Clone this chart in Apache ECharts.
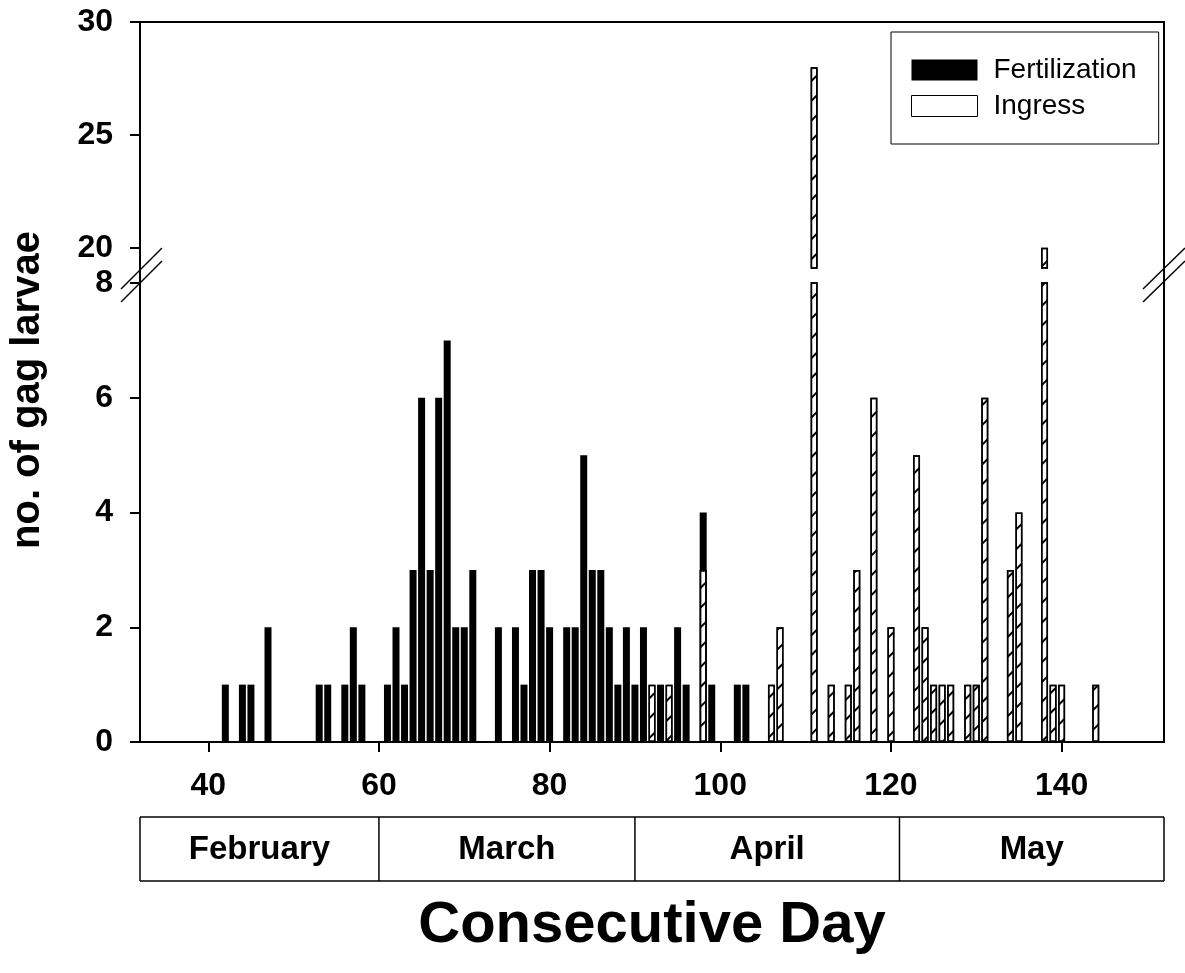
<!DOCTYPE html>
<html>
<head>
<meta charset="utf-8">
<script src="https://cdn.jsdelivr.net/npm/echarts@6/dist/echarts.min.js"></script>
<style>
  html, body { margin: 0; padding: 0; background: #fff; }
  #chart { width: 1185px; height: 973px; }
</style>
</head>
<body>
<div id="chart"></div>
<script>
// consecutive day -> number of gag larvae
var fertDays = [42, 44, 45, 47, 53, 54, 56, 57, 58, 61, 62, 63, 64, 65, 66, 67, 68, 69, 70, 71,
  74, 76, 77, 78, 79, 80, 82, 83, 84, 85, 86, 87, 88, 89, 90, 91, 93, 95, 96, 98, 99, 102, 103];
var fertCounts = [1, 1, 1, 2, 1, 1, 1, 2, 1, 1, 2, 1, 3, 6, 3, 6, 7, 2, 2, 3,
  2, 2, 1, 3, 3, 2, 2, 2, 5, 3, 3, 2, 1, 2, 1, 2, 1, 2, 1, 4, 1, 1, 1];
var ingressDays = [92, 94, 98, 106, 107, 111, 113, 115, 116, 118, 120, 123, 124, 125, 126, 127,
  129, 130, 131, 134, 135, 138, 139, 140, 144];
var ingressCounts = [1, 1, 3, 1, 2, 28, 1, 1, 3, 6, 2, 5, 2, 1, 1, 1,
  1, 1, 6, 3, 4, 20, 1, 1, 1];

var xTicks = [40, 60, 80, 100, 120, 140];
var upperTicks = [20, 25, 30];
var months = ['February', 'March', 'April', 'May'];
var monthEdges = [32, 60, 90, 121, 152];

var FONT = '"Liberation Sans", Arial, sans-serif';

function pairs(days, counts) {
  return days.map(function (d, i) { return [d, counts[i]]; });
}
var fertData = pairs(fertDays, fertCounts);
var ingressData = pairs(ingressDays, ingressCounts);

var hatch = {
  symbol: 'rect',
  symbolSize: 1,
  dashArrayX: [1, 0],
  dashArrayY: [1.3, 12],
  rotation: -Math.PI / 4,
  color: '#000'
};

var tickLabel = { fontSize: 32, fontWeight: 'bold', color: '#000', fontFamily: FONT };

function barSeries(name, data, xi, yi) {
  var fert = name === 'Fertilization';
  return {
    name: name,
    type: 'bar',
    xAxisIndex: xi,
    yAxisIndex: yi,
    barWidth: 7,
    barGap: '-100%',
    data: data,
    itemStyle: fert
      ? { color: '#000' }
      : { color: '#fff', borderColor: '#000', borderWidth: 1.5, decal: hatch }
  };
}

var chart = echarts.init(document.getElementById('chart'));
chart.setOption({
  animation: false,
  backgroundColor: '#fff',
  grid: [
    { left: 140, width: 1024, top: 22, height: 246 },
    { left: 140, width: 1024, top: 283, height: 459 }
  ],
  legend: {
    left: 891,
    top: 32,
    orient: 'vertical',
    icon: 'rect',
    itemWidth: 66,
    itemHeight: 21,
    itemGap: 8,
    padding: [24, 22, 24, 20],
    borderColor: '#000',
    borderWidth: 1,
    textStyle: { fontSize: 28, color: '#000', fontFamily: FONT, padding: [0, 0, 0, 11] },
    data: [
      { name: 'Fertilization' },
      { name: 'Ingress', itemStyle: { decal: 'none', borderColor: '#000', borderWidth: 1 } }
    ]
  },
  xAxis: [
    { gridIndex: 0, type: 'value', min: 32, max: 152, show: false },
    {
      gridIndex: 1, type: 'value', min: 32, max: 152,
      axisLine: { lineStyle: { color: '#000', width: 2 } },
      axisTick: { length: 10, customValues: xTicks, lineStyle: { color: '#000', width: 2 } },
      axisLabel: Object.assign({ margin: 28, customValues: xTicks }, tickLabel),
      splitLine: { show: false }
    }
  ],
  yAxis: [
    {
      gridIndex: 0, type: 'value', min: 19.1, max: 30,
      axisLine: { show: false },
      axisTick: { show: true, length: 10, customValues: upperTicks, lineStyle: { color: '#000', width: 2 } },
      axisLabel: Object.assign({ margin: 27, customValues: upperTicks }, tickLabel),
      splitLine: { show: false }
    },
    {
      gridIndex: 1, type: 'value', min: 0, max: 8, interval: 2,
      axisLine: { show: false },
      axisTick: { show: true, length: 10, lineStyle: { color: '#000', width: 2 } },
      axisLabel: Object.assign({ margin: 27 }, tickLabel),
      splitLine: { show: false }
    }
  ],
  series: [
    barSeries('Fertilization', fertData, 1, 1),
    barSeries('Ingress', ingressData, 1, 1),
    barSeries('Fertilization', fertData, 0, 0),
    barSeries('Ingress', ingressData, 0, 0)
  ]
});

// frame, axis-break marks, month strip and titles
var line = function (x1, y1, x2, y2, w) {
  return { type: 'line', z: 100, shape: { x1: x1, y1: y1, x2: x2, y2: y2 },
    style: { stroke: '#000', lineWidth: w || 1.5 } };
};
var text = function (str, x, y, size, rot) {
  return { type: 'text', z: 100, x: x, y: y, rotation: rot || 0,
    style: { text: str, fill: '#000', font: 'bold ' + size + 'px ' + FONT,
      textAlign: 'center', textVerticalAlign: 'middle' } };
};
var px = function (d) { return chart.convertToPixel({ xAxisIndex: 1 }, d); };

var g = [
  { type: 'rect', z: 90, shape: { x: 140, y: 22, width: 1024, height: 720 },
    style: { fill: 'none', stroke: '#000', lineWidth: 2 } },
  line(121, 289, 162, 248), line(121, 302, 162, 261),
  line(1143, 289, 1185, 248), line(1143, 302, 1185, 261),
  text('no. of gag larvae', 28, 390, 40, Math.PI / 2),
  text('Consecutive Day', 652, 926, 58)
];
var stripTop = 817, stripBottom = 881;
g.push(line(px(monthEdges[0]), stripTop, px(monthEdges[4]), stripTop, 1.5));
g.push(line(px(monthEdges[0]), stripBottom, px(monthEdges[4]), stripBottom, 1.5));
monthEdges.forEach(function (d) {
  g.push(line(px(d), stripTop, px(d), stripBottom, 1.5));
});
months.forEach(function (m, i) {
  var cx = (px(monthEdges[i]) + px(monthEdges[i + 1])) / 2;
  g.push(text(m, cx, 850, 33));
});
chart.setOption({ graphic: g });
</script>
</body>
</html>
